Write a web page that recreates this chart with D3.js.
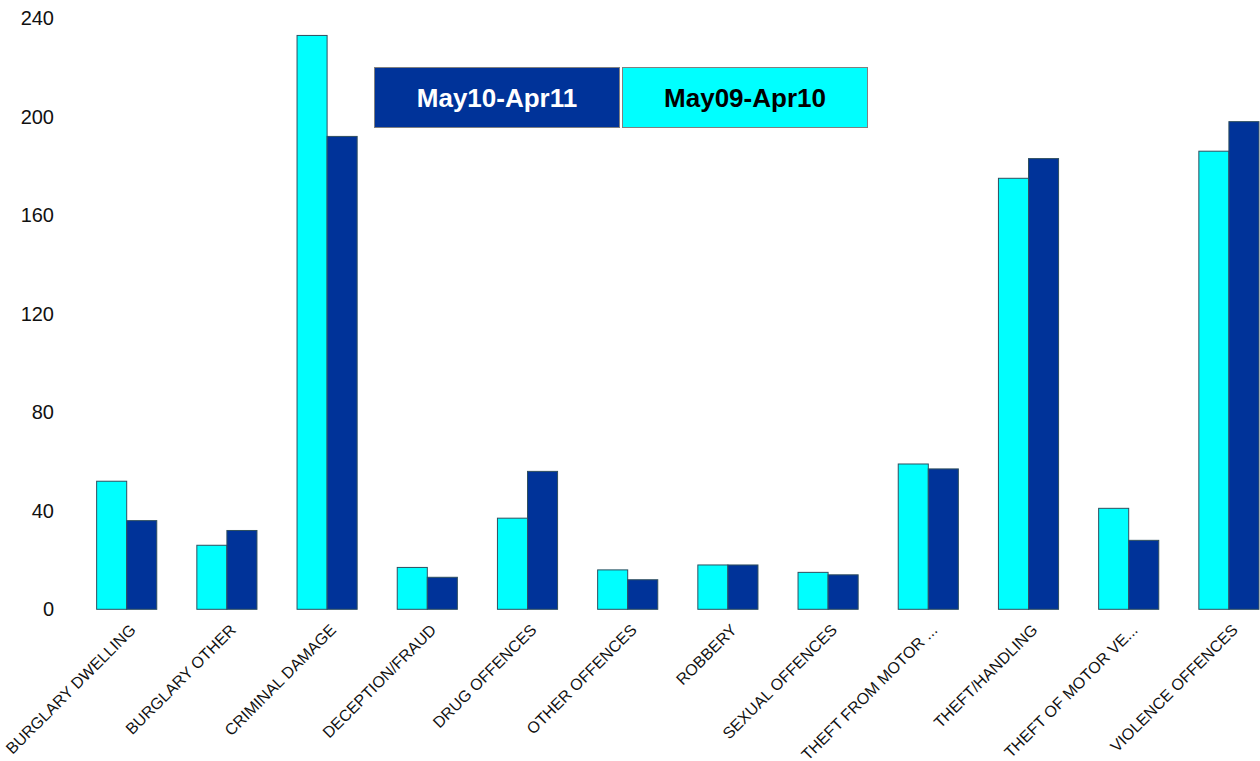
<!DOCTYPE html>
<html>
<head>
<meta charset="utf-8">
<script src="https://cdn.jsdelivr.net/npm/d3@7"></script>
<style>
  body { margin: 0; background: #fff; }
  svg { display: block; }
</style>
</head>
<body>
<script>
const width = 1260;
const height = 761;

const categories = [
  "BURGLARY DWELLING", "BURGLARY OTHER", "CRIMINAL DAMAGE", "DECEPTION/FRAUD",
  "DRUG OFFENCES", "OTHER OFFENCES", "ROBBERY", "SEXUAL OFFENCES",
  "THEFT FROM MOTOR ...", "THEFT/HANDLING", "THEFT OF MOTOR VE...", "VIOLENCE OFFENCES"
];
const series = ["May09-Apr10", "May10-Apr11"];
const may09 = [52, 26, 233, 17, 37, 16, 18, 15, 59, 175, 41, 186];
const may10 = [36, 32, 192, 13, 56, 12, 18, 14, 57, 183, 28, 198];
const yTicks = [0, 40, 80, 120, 160, 200, 240];
const legendOrder = ["May10-Apr11", "May09-Apr10"];

const colors = { "May09-Apr10": "#00ffff", "May10-Apr11": "#003399" };
const textColors = { "May09-Apr10": "#000", "May10-Apr11": "#fff" };
const values = { "May09-Apr10": may09, "May10-Apr11": may10 };

const svg = d3.select("body").append("svg")
  .attr("width", width)
  .attr("height", height);

const y = d3.scaleLinear().domain([0, 240]).range([609.3, 18.2]);

// groups 60px wide on a 100.2px step; plot area runs past the right edge
const x = d3.scaleBand()
  .domain(categories)
  .range([76.6, 1279])
  .paddingInner(0.4)
  .paddingOuter(0.2);

const xs = d3.scaleBand().domain(series).range([0, x.bandwidth()]);

// y tick labels
svg.append("g")
  .selectAll("text")
  .data(yTicks)
  .join("text")
  .attr("x", 54)
  .attr("y", d => y(d))
  .attr("dy", "0.35em")
  .attr("text-anchor", "end")
  .attr("font-family", "Liberation Sans, Arial, sans-serif")
  .attr("font-size", 20)
  .attr("fill", "#111")
  .text(d => d);

// bars
const groups = svg.append("g")
  .selectAll("g")
  .data(categories)
  .join("g")
  .attr("transform", d => `translate(${x(d)},0)`);

groups.selectAll("rect")
  .data((d, i) => series.map(s => ({ s, v: values[s][i] })))
  .join("rect")
  .attr("x", d => xs(d.s))
  .attr("y", d => y(d.v))
  .attr("width", xs.bandwidth())
  .attr("height", d => y(0) - y(d.v))
  .attr("fill", d => colors[d.s])
  .attr("stroke", "#2f4f5f")
  .attr("stroke-width", 1);

// category labels
svg.append("g")
  .selectAll("text")
  .data(categories)
  .join("text")
  .attr("transform", d => `translate(${x(d) + x.bandwidth() / 2 + 10},631) rotate(-45)`)
  .attr("text-anchor", "end")
  .attr("font-family", "Liberation Sans, Arial, sans-serif")
  .attr("font-size", 16)
  .attr("fill", "#111")
  .text(d => d);

// legend
const legend = svg.append("g").attr("transform", "translate(374.5,67.5)");
const lw = 245, lh = 60, lgap = 3;
const items = legend.selectAll("g")
  .data(legendOrder)
  .join("g")
  .attr("transform", (d, i) => `translate(${i * (lw + lgap)},0)`);
items.append("rect")
  .attr("width", lw)
  .attr("height", lh)
  .attr("fill", d => colors[d])
  .attr("stroke", "#808080")
  .attr("stroke-width", 1);
items.append("text")
  .attr("x", lw / 2)
  .attr("y", lh / 2)
  .attr("dy", "0.36em")
  .attr("text-anchor", "middle")
  .attr("font-family", "Liberation Sans, Arial, sans-serif")
  .attr("font-weight", "bold")
  .attr("font-size", 26)
  .attr("fill", d => textColors[d])
  .text(d => d);
</script>
</body>
</html>
